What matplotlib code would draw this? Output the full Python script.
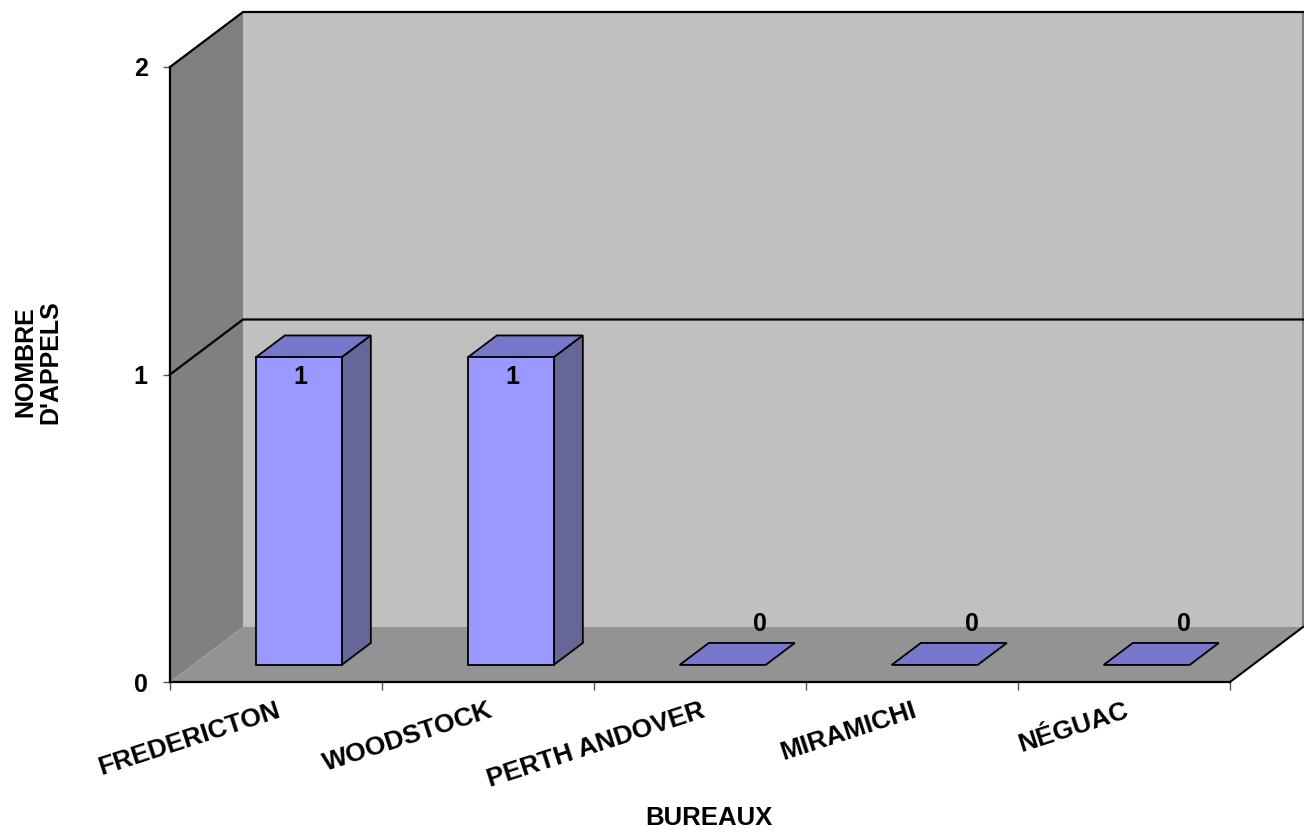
import matplotlib
matplotlib.use("Agg")
import matplotlib.pyplot as plt
from matplotlib.patches import Polygon

# Data
categories = ["FREDERICTON", "WOODSTOCK", "PERTH ANDOVER", "MIRAMICHI", "NÉGUAC"]
appels = [1, 1, 0, 0, 0]
y_ticks = [0, 1, 2]
x_title = "BUREAUX"
y_title = "NOMBRE\nD'APPELS"

FONT = "Liberation Sans"
plt.rcParams["font.family"] = [FONT, "DejaVu Sans"]
plt.rcParams["font.weight"] = "bold"

W, H = 1304, 835
fig = plt.figure(figsize=(W / 100, H / 100), dpi=100)
ax_l, ax_r, ax_b, ax_t = 170, 1230, 682, 67
ax = fig.add_axes([ax_l / W, 1 - ax_b / H, (ax_r - ax_l) / W, (ax_b - ax_t) / H])

n = len(categories)
ymax = 2
ax.set_xlim(0, n)
ax.set_ylim(0, ymax)
ax.patch.set_visible(False)

# 3-D depth offset (in data units) for full depth of the plot box
px_x = (ax_r - ax_l) / n
px_y = (ax_b - ax_t) / ymax
DX = 73 / px_x
DY = 55 / px_y


def proj(x, y, d):
    return (x + d * DX, y + d * DY)


wall_back = "#c0c0c0"
wall_side = "#808080"
floor_c = "#939393"

# walls and floor
ax.add_patch(Polygon([proj(0, 0, 1), proj(n, 0, 1), proj(n, ymax, 1), proj(0, ymax, 1)],
                     closed=True, facecolor=wall_back, edgecolor="none", clip_on=False, zorder=1))
ax.add_patch(Polygon([proj(0, 0, 0), proj(0, 0, 1), proj(0, ymax, 1), proj(0, ymax, 0)],
                     closed=True, facecolor=wall_side, edgecolor="none", clip_on=False, zorder=1))
ax.add_patch(Polygon([proj(0, 0, 0), proj(n, 0, 0), proj(n, 0, 1), proj(0, 0, 1)],
                     closed=True, facecolor=floor_c, edgecolor="none", clip_on=False, zorder=1))

# back-wall right edge
xs, ys = zip(proj(n, 0, 1), proj(n, ymax, 1))
ax.plot(xs, ys, color="#7a7a7a", lw=1.5, clip_on=False, zorder=2)

# gridlines on walls
for v in y_ticks[1:]:
    pts = [proj(0, v, 0), proj(0, v, 1), proj(n, v, 1)]
    xs, ys = zip(*pts)
    ax.plot(xs, ys, color="black", lw=1.6, clip_on=False, zorder=2, solid_joinstyle="miter")

# right floor edge
xs, ys = zip(proj(n, 0, 0), proj(n, 0, 1))
ax.plot(xs, ys, color="black", lw=1.5, clip_on=False, zorder=2)

# bars
bar_w = 86 / px_x
d0, d1 = 0.31, 0.71
front_c = "#9999ff"
top_c = "#7777cc"
side_c = "#666699"
for i, v in enumerate(appels):
    c = i + 0.5
    xl, xr = c - bar_w / 2, c + bar_w / 2
    top = [proj(xl, v, d0), proj(xr, v, d0), proj(xr, v, d1), proj(xl, v, d1)]
    ax.add_patch(Polygon(top, closed=True, facecolor=top_c, edgecolor="black",
                         lw=1.3, clip_on=False, zorder=3, joinstyle="miter"))
    if v > 0:
        side = [proj(xr, 0, d0), proj(xr, 0, d1), proj(xr, v, d1), proj(xr, v, d0)]
        ax.add_patch(Polygon(side, closed=True, facecolor=side_c, edgecolor="black",
                             lw=1.3, clip_on=False, zorder=3, joinstyle="miter"))
        front = [proj(xl, 0, d0), proj(xr, 0, d0), proj(xr, v, d0), proj(xl, v, d0)]
        ax.add_patch(Polygon(front, closed=True, facecolor=front_c, edgecolor="black",
                             lw=1.3, clip_on=False, zorder=4, joinstyle="miter"))
        lx, ly = proj(c, v, d0)
        ax.annotate(str(v), (lx, ly), xytext=(1, -14), textcoords="offset points",
                    ha="center", va="center", fontsize=18, fontweight="bold", zorder=6)
    else:
        lx, ly = proj(c, v, d1)
        ax.annotate(str(v), (lx, ly), xytext=(6, 14), textcoords="offset points",
                    ha="center", va="center", fontsize=18, fontweight="bold", zorder=6)

# axes lines
for s in ["top", "right"]:
    ax.spines[s].set_visible(False)
for s in ["left", "bottom"]:
    ax.spines[s].set_linewidth(1.6)
    ax.spines[s].set_zorder(5)

ax.set_yticks(y_ticks)
ax.set_yticklabels([str(t) for t in y_ticks], fontsize=18, fontweight="bold")
ax.tick_params(axis="y", length=5, width=1.0, pad=11, color="#555555")

ax.set_xticks(range(n + 1))
ax.set_xticklabels([])
ax.set_xticks([i + 0.5 for i in range(n)], minor=True)
ax.set_xticklabels(categories, minor=True, fontsize=19, fontweight="bold",
                   rotation=18, ha="right", rotation_mode="anchor", va="top")
ax.tick_params(axis="x", which="major", length=6, width=1.0, color="#555555")
ax.tick_params(axis="x", which="minor", length=0, pad=12)

fig.text(709 / W, 1 - 818 / H, x_title, ha="center", va="center",
         fontsize=18.5, fontweight="bold")
fig.text(38 / W, 1 - 362 / H, y_title, ha="center", va="center", rotation=90,
         fontsize=18, fontweight="bold", linespacing=1.05)

fig.savefig("out.png", dpi=100)
